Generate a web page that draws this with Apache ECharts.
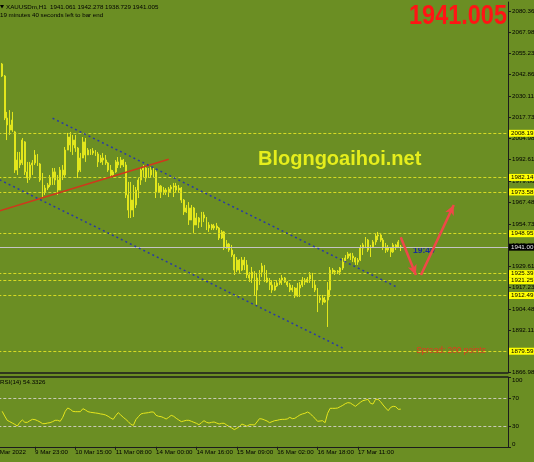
<!DOCTYPE html>
<html><head><meta charset="utf-8">
<script src="https://cdn.jsdelivr.net/npm/echarts@6/dist/echarts.min.js"></script>
<style>html,body{margin:0;padding:0;background:#6b8e23;}#c{width:534px;height:462px;}</style>
</head><body><div id="c"></div>
<script>
// ---------- data ----------
const symbolTitle = 'XAUUSDm,H1';
const lastQuote = ['1941.061', '1942.278', '1938.729', '1941.005'];
const barTimerText = '19 minutes 40 seconds left to bar end';
const rsiTitle = 'RSI(14) 54.3326';
const firstBarIndex = 3;      // first visible bar slot
const totalSlots = 204;       // bar slots incl. right shift
// [open, close, low, high]
const ohlc = [
[2049.1,2042.0,2041.4,2049.7],[2042.0,2017.2,2016.0,2042.6],[2017.2,2013.1,2004.2,2020.8],[2013.1,2010.1,2007.2,2021.9],
[2010.1,2016.0,2009.0,2020.8],[2009.0,1986.5,1984.8,2009.6],[1986.5,1992.4,1983.6,1997.2],[1992.4,1989.5,1987.7,1997.2],
[1990.7,2004.2,1989.5,2005.4],[2003.1,1985.4,1983.6,2003.6],[1985.4,1981.8,1978.9,1991.3],[1981.8,1989.5,1980.6,1991.3],
[1989.5,1990.7,1983.6,1992.4],[1990.7,1995.4,1989.5,1998.3],[1995.4,1990.7,1988.9,1996.0],[1990.1,1980.6,1979.5,1990.7],
[1980.6,1973.6,1970.6,1984.8],[1973.6,1975.9,1971.8,1977.7],[1975.9,1977.7,1974.7,1978.9],[1977.7,1981.8,1976.5,1983.6],
[1981.8,1985.4,1977.7,1987.7],[1985.4,1980.6,1977.7,1987.7],[1980.6,1974.7,1971.8,1983.6],[1974.7,1986.5,1974.7,1988.3],
[1986.5,1983.6,1980.6,1989.5],[1983.6,1998.3,1982.4,2000.1],[1998.3,2006.0,1998.3,2008.4],[2006.0,2001.3,1997.2,2009.0],
[2001.3,2004.2,1995.4,2007.2],[2004.2,1999.5,1997.2,2007.2],[1999.5,1985.4,1981.8,2000.1],[1986.5,1993.6,1985.4,1996.6],
[1993.6,2003.1,1993.6,2006.0],[2003.1,1995.4,1991.3,2005.4],[1995.4,1998.3,1995.4,1999.5],[1998.3,1996.6,1995.4,1998.9],
[1996.6,1997.7,1995.4,1999.5],[1997.7,1996.0,1994.8,1998.3],[1996.0,1991.3,1988.3,1997.2],[1991.3,1993.6,1990.7,1995.4],
[1993.6,1992.4,1989.5,1996.6],[1992.4,1990.7,1989.5,1995.4],[1990.7,1986.5,1985.4,1991.3],[1986.5,1983.6,1981.8,1989.5],
[1983.6,1985.4,1983.0,1986.5],[1985.4,1991.3,1984.8,1992.4],[1991.3,1989.5,1987.7,1994.2],[1989.5,1992.4,1987.7,1994.2],
[1992.4,1989.5,1988.3,1993.0],[1989.5,1971.8,1970.0,1991.3],[1971.8,1962.9,1958.2,1979.5],[1962.9,1968.8,1958.2,1979.5],
[1968.8,1962.9,1958.8,1977.7],[1965.9,1974.7,1964.1,1976.5],[1974.7,1980.6,1970.0,1981.8],[1980.6,1986.5,1977.7,1988.3],
[1986.5,1987.7,1982.4,1989.5],[1987.7,1981.8,1979.5,1988.3],[1981.8,1986.5,1981.8,1987.7],[1986.5,1983.6,1981.8,1988.3],
[1983.6,1986.5,1982.4,1987.7],[1985.4,1973.6,1970.0,1986.5],[1973.6,1977.1,1973.0,1978.9],[1977.1,1973.6,1970.0,1977.7],
[1973.6,1974.7,1971.8,1976.5],[1974.7,1973.6,1971.8,1975.9],[1973.6,1975.3,1970.6,1976.5],[1975.3,1976.5,1973.6,1977.7],
[1976.5,1977.1,1970.6,1978.9],[1977.1,1974.7,1973.0,1978.9],[1974.7,1975.9,1973.0,1977.7],[1975.9,1968.8,1967.1,1976.5],
[1968.8,1961.8,1960.0,1969.4],[1961.8,1964.1,1961.2,1965.9],[1964.1,1957.0,1954.1,1967.6],[1957.0,1964.1,1957.0,1965.9],
[1964.1,1954.1,1949.4,1964.7],[1954.1,1958.2,1954.1,1961.2],[1958.2,1955.8,1952.3,1958.8],[1955.8,1960.0,1952.9,1961.8],
[1960.0,1958.2,1955.8,1961.8],[1958.2,1952.3,1951.1,1958.8],[1952.3,1954.1,1950.0,1955.8],[1954.1,1952.3,1951.1,1954.7],
[1952.3,1953.5,1951.1,1954.7],[1953.5,1952.3,1951.1,1955.3],[1952.3,1946.4,1945.2,1952.9],[1946.4,1950.0,1945.8,1951.1],
[1950.0,1940.5,1939.3,1950.5],[1940.5,1942.9,1940.0,1945.2],[1942.9,1939.3,1938.2,1943.5],[1939.3,1936.4,1935.2,1942.3],
[1936.4,1927.5,1924.6,1937.0],[1927.5,1933.4,1926.3,1935.2],[1933.4,1927.5,1925.8,1934.0],[1927.5,1933.4,1926.9,1935.2],
[1933.4,1930.5,1927.5,1935.2],[1930.5,1924.6,1922.8,1933.4],[1924.6,1922.8,1920.4,1926.3],[1922.8,1926.3,1919.9,1929.3],
[1926.3,1915.7,1912.8,1926.9],[1915.7,1922.8,1906.9,1925.8],[1922.8,1926.3,1918.7,1927.5],[1926.3,1929.9,1923.4,1931.7],
[1929.9,1922.8,1920.4,1930.5],[1922.8,1920.4,1919.9,1927.5],[1920.4,1918.7,1915.7,1922.8],[1918.7,1915.7,1914.0,1921.6],
[1915.7,1918.1,1915.2,1920.4],[1918.1,1919.9,1917.5,1921.6],[1919.9,1921.6,1918.7,1922.8],[1921.6,1922.8,1918.7,1924.6],
[1922.8,1920.4,1919.9,1923.4],[1920.4,1918.7,1917.5,1921.0],[1918.7,1915.7,1914.5,1919.9],[1915.7,1916.9,1914.5,1918.7],
[1916.9,1912.2,1911.0,1917.5],[1912.2,1916.9,1911.6,1919.9],[1916.9,1918.7,1911.6,1920.4],[1918.7,1921.6,1917.5,1923.4],
[1921.6,1920.4,1918.7,1922.8],[1920.4,1922.2,1919.9,1923.4],[1922.2,1924.6,1919.9,1926.3],[1924.6,1918.7,1916.9,1925.8],
[1918.7,1915.7,1914.5,1921.6],[1915.7,1909.8,1902.7,1916.9],[1909.8,1911.0,1908.1,1912.8],[1911.0,1908.6,1906.9,1912.8],
[1908.6,1909.8,1908.1,1911.6],[1909.8,1915.7,1893.9,1920.4],[1915.7,1927.5,1911.6,1929.3],[1927.5,1926.3,1925.2,1928.7],
[1926.3,1926.9,1924.6,1927.5],[1926.9,1926.3,1925.2,1927.5],[1926.3,1928.7,1924.6,1929.3],[1928.7,1932.2,1927.5,1934.6],
[1932.2,1934.6,1931.7,1936.4],[1934.6,1937.0,1934.0,1938.2],[1937.0,1935.8,1933.4,1937.6],[1935.8,1934.6,1932.2,1937.6],
[1934.6,1932.2,1930.5,1935.2],[1932.2,1933.4,1930.5,1934.6],[1933.4,1940.5,1932.8,1942.3],[1940.5,1942.3,1936.4,1943.5],
[1942.3,1945.2,1940.5,1947.0],[1945.2,1939.3,1938.2,1945.8],[1939.3,1941.1,1935.2,1942.3],[1941.1,1944.1,1940.5,1945.2],
[1944.1,1947.6,1942.3,1949.4],[1947.6,1948.2,1945.2,1950.0],[1948.2,1945.2,1944.1,1949.4],[1945.2,1941.1,1939.3,1946.4],
[1941.1,1939.3,1937.6,1943.5],[1939.3,1940.5,1938.2,1942.3],[1940.5,1938.2,1935.2,1941.1],[1938.2,1942.3,1937.6,1943.5],
[1942.3,1941.1,1939.3,1942.9],[1941.1,1944.1,1940.5,1945.2],[1941.061,1941.005,1938.729,1942.278]
];
const rsi14 = [
51.2,44.4,38.2,36.3,34.3,32.4,30.0,35.3,38.7,35.3,
35.3,37.7,39.6,39.2,37.7,35.8,33.4,33.4,34.3,34.8,
36.3,38.2,38.2,36.8,42.5,51.2,56.0,54.1,51.2,50.7,
50.7,50.7,55.0,53.1,50.7,49.8,49.3,48.8,48.3,47.4,
46.9,45.9,44.0,41.6,39.6,44.9,49.3,45.9,42.5,39.6,
36.3,32.4,30.9,39.2,43.5,47.4,48.3,48.8,49.3,50.2,
50.2,45.4,44.0,43.5,42.0,40.1,42.5,45.4,44.0,41.1,
38.7,36.3,37.2,38.2,38.2,36.8,35.3,33.9,31.9,34.8,
37.7,35.3,34.3,35.3,35.8,34.3,32.9,33.9,33.9,31.4,
29.1,27.2,24.8,26.7,29.1,32.9,31.4,29.6,31.9,31.9,
31.4,35.8,40.6,40.1,38.7,37.2,34.8,36.3,37.7,38.2,
39.2,39.6,39.6,40.1,42.5,40.6,41.1,43.5,45.9,47.4,
48.3,50.2,48.3,44.4,41.1,36.8,37.2,37.7,34.8,48.3,
55.5,55.5,55.5,56.0,57.9,59.8,62.2,63.7,63.2,60.8,
58.4,61.3,64.2,66.6,67.5,68.5,62.7,61.7,68.5,68.5,
65.1,60.3,56.0,52.2,56.9,58.4,57.9,54.1,54.33
];
const tickIndex = [0, 16, 32, 48, 64, 80, 96, 112, 128, 144];
const tickLabels = ['9 Mar 2022', '9 Mar 23:00', '10 Mar 15:00', '11 Mar 08:00', '14 Mar 00:00',
  '14 Mar 16:00', '15 Mar 09:00', '16 Mar 02:00', '16 Mar 18:00', '17 Mar 11:00'];
const priceTicks = [2080.36, 2067.98, 2055.23, 2042.86, 2030.11, 2017.73, 2004.98, 1992.61, 1979.86,
  1967.48, 1954.73, 1942.36, 1929.61, 1917.23, 1904.48, 1892.11, 1879.36, 1866.98];
const priceMin = 1866.98, priceMax = 2085.67;
const rsiTicks = [0, 30, 70, 100];
const rsiLevels = [70, 30];
const levelPrices = [2008.19, 1982.14, 1973.58, 1948.95, 1925.39, 1921.25, 1912.49, 1879.59];
const currentPrice = 1941.00;
const bigPriceText = '1941.005';
const trendRed = [[2, 1962.45], [69, 1992.90]];
const channelUpper = [[23, 2017.07], [160, 1917.02]];
const channelLower = [[2, 1980.75], [139, 1880.73]];
const arrowDown = [[161, 1946.82], [167, 1924.57]];
const arrowUp = [[169, 1924.57], [182, 1965.88]];
const siteText = 'Blogngoaihoi.net';
const spreadText = 'Spread: 200 points';
const timerText = '19:40';

// ---------- build ----------
const FONT = 'Liberation Sans';
const FS = 6.2;
const categories = Array.from({length: totalSlots}, (_, i) => String(i));
const candleData = categories.map((_, i) => {
  const j = i - firstBarIndex;
  return (j >= 0 && j < ohlc.length) ? ohlc[j] : '-';
});
const rsiData = categories.map((_, i) => {
  const j = i - firstBarIndex;
  return (j >= 0 && j < rsi14.length) ? rsi14[j] : '-';
});
const isTick = (idx) => tickIndex.indexOf(idx) >= 0;
const axisDark = '#1c1c1c';

function seg(pts, color, width, type, arrow) {
  return [
    {coord: pts[0], symbol: 'none', lineStyle: {color, width, type}},
    {coord: pts[1], symbol: arrow ? 'arrow' : 'none', symbolSize: arrow ? [7, 10] : 0}
  ];
}

const markLines = [];
levelPrices.forEach(p => markLines.push({
  yAxis: p,
  lineStyle: {color: '#d6da24', width: 1, type: [3, 2]},
  label: {show: true, position: 'end', distance: 1, formatter: p.toFixed(2), color: '#000',
    backgroundColor: '#ffff00', padding: [1, 4, 0, 2], fontSize: FS, fontFamily: FONT}
}));
markLines.push({
  yAxis: currentPrice,
  lineStyle: {color: '#c4c4c4', width: 1, type: 'solid'},
  label: {show: true, position: 'end', distance: 1, formatter: currentPrice.toFixed(2), color: '#e8e8e8',
    backgroundColor: '#000', padding: [1, 4, 0, 2], fontSize: FS, fontFamily: FONT}
});
markLines.push(seg(trendRed, '#d2361c', 1.5, 'solid'));
markLines.push(seg(channelUpper, '#2a3aa6', 1.5, [2, 3]));
markLines.push(seg(channelLower, '#2a3aa6', 1.5, [2, 3]));
markLines.push(seg(arrowDown, '#f04848', 2.5, 'solid', true));
markLines.push(seg(arrowUp, '#f04848', 2.5, 'solid', true));

const gridLeft = -6.66, gridRight = 26;

const option = {
  animation: false,
  backgroundColor: '#6b8e23',
  grid: [
    {left: gridLeft, right: gridRight, top: 2, height: 370.6, containLabel: false, outerBoundsMode: 'none'},
    {left: gridLeft, right: gridRight, top: 377.5, height: 69.3, containLabel: false, outerBoundsMode: 'none'}
  ],
  xAxis: [
    {type: 'category', gridIndex: 0, data: categories, boundaryGap: true,
      axisLine: {show: true, lineStyle: {color: axisDark, width: 1.5}},
      axisTick: {show: false}, axisLabel: {show: false}, splitLine: {show: false}},
    {type: 'category', gridIndex: 1, data: categories, boundaryGap: true,
      axisLine: {show: true, lineStyle: {color: axisDark, width: 1}},
      axisTick: {show: true, alignWithLabel: true, interval: isTick, length: 3, lineStyle: {color: axisDark}},
      axisLabel: {show: true, interval: isTick, align: 'left', margin: 2.5, color: '#000', fontSize: FS,
        fontFamily: FONT, formatter: (v, idx) => { const t = tickIndex.indexOf(idx); return t >= 0 ? tickLabels[t] : ''; }},
      splitLine: {show: false}},
    {type: 'category', gridIndex: 1, data: categories, position: 'top', offset: 1,
      axisLine: {show: true, lineStyle: {color: axisDark, width: 1.5}},
      axisTick: {show: false}, axisLabel: {show: false}}
  ],
  yAxis: [
    {type: 'value', gridIndex: 0, position: 'right', min: priceMin, max: priceMax, splitLine: {show: false},
      axisLine: {show: true, lineStyle: {color: axisDark, width: 1}},
      axisTick: {show: true, inside: false, length: 3, customValues: priceTicks, lineStyle: {color: axisDark}},
      axisLabel: {customValues: priceTicks, margin: 4, color: '#000', fontSize: FS, fontFamily: FONT,
        formatter: v => Number(v).toFixed(2)}},
    {type: 'value', gridIndex: 1, position: 'right', min: 0, max: 100, splitLine: {show: false},
      axisLine: {show: true, lineStyle: {color: axisDark, width: 1}},
      axisTick: {show: true, length: 3, customValues: rsiTicks, lineStyle: {color: axisDark}},
      axisLabel: {customValues: rsiTicks, margin: 4, color: '#000', fontSize: FS, fontFamily: FONT,
        verticalAlignMaxLabel: 'top', verticalAlignMinLabel: 'bottom'}}
  ],
  series: [
    {type: 'candlestick', xAxisIndex: 0, yAxisIndex: 0, data: candleData, barWidth: 1.4,
      itemStyle: {color: '#e2e61c', color0: '#e2e61c', borderColor: '#e2e61c', borderColor0: '#e2e61c', borderWidth: 1},
      emphasis: {disabled: true},
      markLine: {silent: true, symbol: 'none', animation: false, data: markLines}},
    {type: 'line', xAxisIndex: 1, yAxisIndex: 1, data: rsiData, showSymbol: false, connectNulls: false,
      lineStyle: {color: '#e6e61c', width: 1}, emphasis: {disabled: true},
      markLine: {silent: true, symbol: 'none', animation: false, label: {show: false},
        lineStyle: {color: '#c9c9b8', width: 1, type: [3, 2]},
        data: rsiLevels.map(v => ({yAxis: v}))}}
  ],
  graphic: [
    {type: 'polygon', shape: {points: [[0, 5], [4, 5], [2, 8.5]]}, style: {fill: '#000'}},
    {type: 'text', x: 6, y: 7.3, style: {text: symbolTitle + '  ' + lastQuote.join(' '), fill: '#000',
      font: FS + 'px "' + FONT + '"', textVerticalAlign: 'middle'}},
    {type: 'text', x: 0, y: 15.7, style: {text: barTimerText, fill: '#000',
      font: FS + 'px "' + FONT + '"', textVerticalAlign: 'middle'}},
    {type: 'text', x: 507, y: 17, scaleX: 0.87, style: {text: bigPriceText, fill: '#ff1414',
      font: 'bold 27px "' + FONT + '"', textAlign: 'right', textVerticalAlign: 'middle'}},
    {type: 'text', x: 258, y: 159, style: {text: siteText, fill: '#e6ee1c',
      font: 'bold 20px "' + FONT + '"', textVerticalAlign: 'middle'}},
    {type: 'text', x: 451, y: 350.5, style: {text: spreadText, fill: '#e8361e',
      font: '8.3px "' + FONT + '"', textAlign: 'center', textVerticalAlign: 'middle'}},
    {type: 'text', x: 413, y: 251, style: {text: timerText, fill: '#1a2c9c',
      font: 'bold 8.5px "' + FONT + '"', textVerticalAlign: 'middle'}},
    {type: 'text', x: 0, y: 382.7, style: {text: rsiTitle, fill: '#000',
      font: FS + 'px "' + FONT + '"', textVerticalAlign: 'middle'}}
  ]
};
const chart = echarts.init(document.getElementById('c'), null, {renderer: 'canvas'});
chart.setOption(option);
</script>
</body></html>
